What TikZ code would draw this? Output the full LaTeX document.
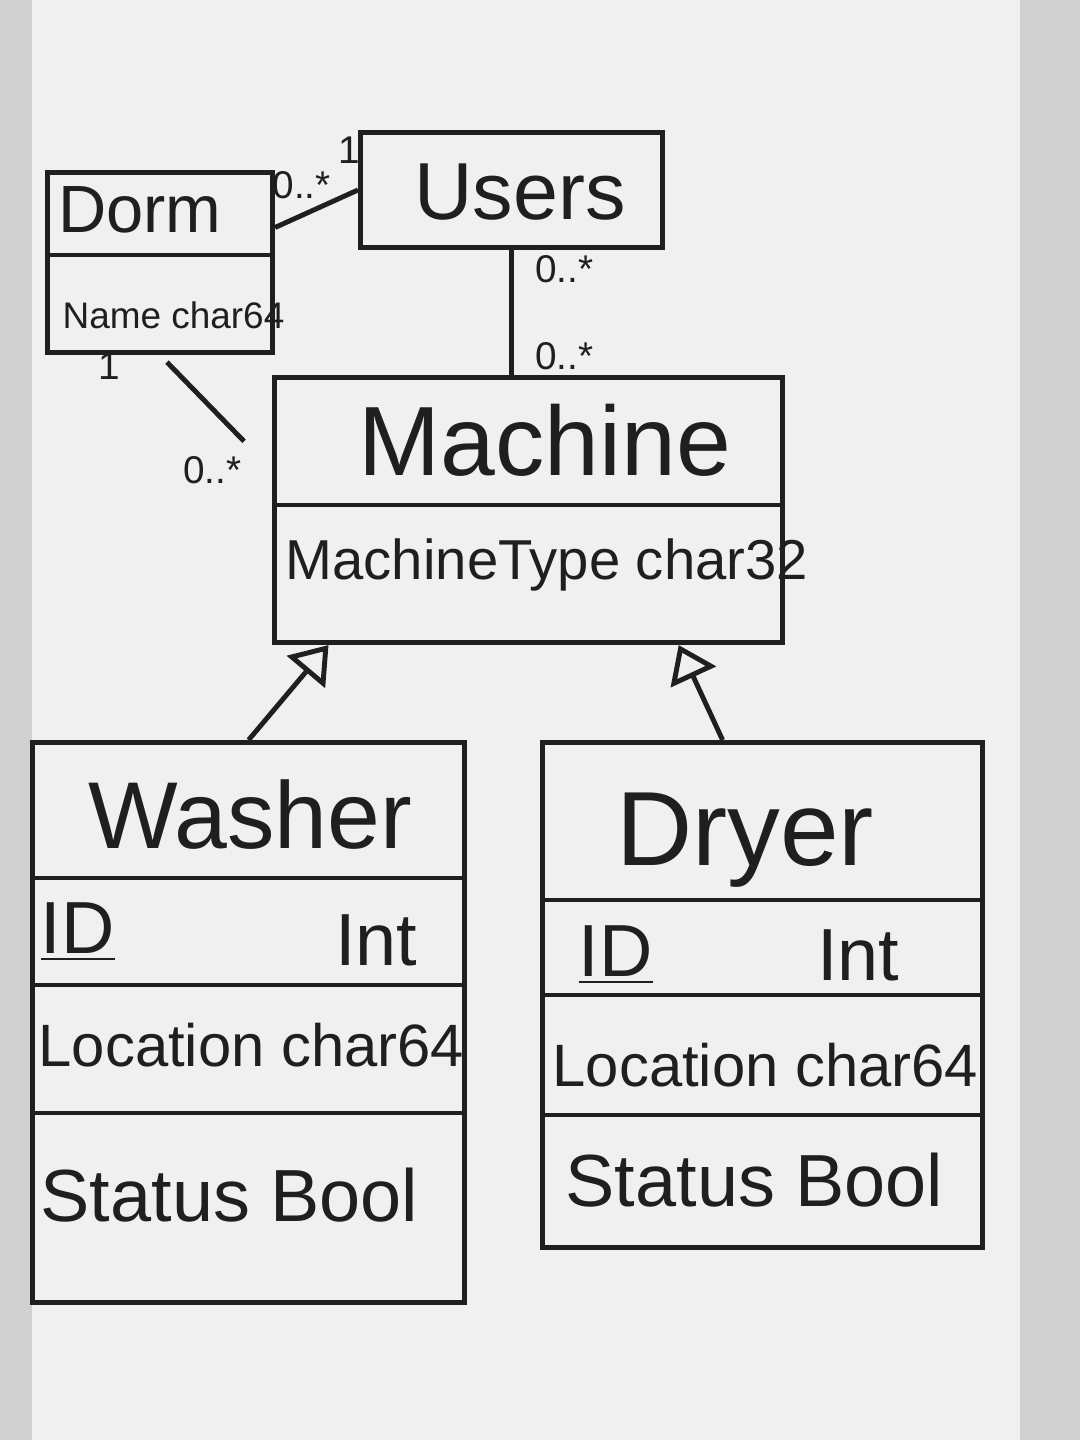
\documentclass[tikz,border=0pt]{standalone}
\usepackage{fontspec}
\setmainfont{Liberation Sans}
\usetikzlibrary{arrows.meta}

\begin{document}
\begin{tikzpicture}[x=0.01cm,y=-0.01cm,
        ink/.style={draw=black!88,line width=1.4pt},
        classbox/.style={ink,anchor=north west,inner sep=0pt},
        title/.style={text=black!88,font=\fontsize{28}{30}\selectfont},
        attr/.style={text=black!88,inner sep=0pt,font=\fontsize{17}{19}\selectfont},
        mult/.style={text=black!88,inner sep=2pt,font=\fontsize{11}{13}\selectfont},
        isa/.style={ink,-{Triangle[open,length=10pt,width=14pt]}}]
    % board
    \fill[black!6] (0,0) rectangle (1080,1440);
    \fill[black!18] (0,0) rectangle (32,1440);
    \fill[black!18] (1020,0) rectangle (1080,1440);
    \useasboundingbox (0,0) rectangle (1080,1440);
    % classes
    \node[classbox,minimum width=2.25cm,minimum height=1.8cm] (dorm) at (45,170) {};
    \node[classbox,minimum width=3.02cm,minimum height=1.15cm] (users) at (358,130) {};
    \node[classbox,minimum width=5.08cm,minimum height=2.65cm] (machine) at (272,375) {};
    \node[classbox,minimum width=4.32cm,minimum height=5.6cm] (washer) at (30,740) {};
    \node[classbox,minimum width=4.4cm,minimum height=5.05cm] (dryer) at (540,740) {};
    \draw[ink] (dorm.west |- 0,255) -- (dorm.east |- 0,255);
    \draw[ink] (machine.west |- 0,505) -- (machine.east |- 0,505);
    \foreach \y in {878,985,1113} \draw[ink] (washer.west |- 0,\y) -- (washer.east |- 0,\y);
    \foreach \y in {900,995,1115} \draw[ink] (dryer.west |- 0,\y) -- (dryer.east |- 0,\y);
    % texts
    \node[title,font=\fontsize{19}{21}\selectfont] (dormname) at (140,210) {Dorm};
    \node[attr,anchor=west,font=\fontsize{10.5}{12}\selectfont] (dormattr) at (62,315) {Name char64};
    \node[title,font=\fontsize{23}{25}\selectfont] (usersname) at (520,192) {Users};
    \node[title] (machinename) at (545,440) {Machine};
    \node[attr,anchor=west,font=\fontsize{16}{18}\selectfont] (machineattr) at (285,565) {MachineType char32};
    \node[title,font=\fontsize{27}{29}\selectfont] (washername) at (250,815) {Washer};
    \node[attr,anchor=west,font=\fontsize{21}{23}\selectfont] (washerid) at (40,932) {\underline{ID}};
    \node[attr,anchor=east,font=\fontsize{21}{23}\selectfont] (washerint) at (418,940) {Int};
    \node[attr,anchor=west] (washerloc) at (38,1045) {Location char64};
    \node[attr,anchor=west,font=\fontsize{21}{23}\selectfont] (washerstat) at (40,1195) {Status Bool};
    \node[title,font=\fontsize{30}{32}\selectfont] (dryername) at (745,840) {Dryer};
    \node[attr,anchor=west,font=\fontsize{21}{23}\selectfont] (dryerid) at (578,955) {\underline{ID}};
    \node[attr,anchor=east,font=\fontsize{21}{23}\selectfont] (dryerint) at (900,955) {Int};
    \node[attr,anchor=west] (dryerloc) at (552,1065) {Location char64};
    \node[attr,anchor=west,font=\fontsize{21}{23}\selectfont] (dryerstat) at (565,1180) {Status Bool};
    % associations
    \draw[ink] ([yshift=0.35cm]dorm.east) -- node[mult,pos=0.32,above=2pt] (m1) {0..*}
        node[mult,pos=0.9,above=6pt] (m2) {1} (users.west);
    \draw[ink] (users.south) -- node[mult,pos=0.15,right=4pt] (m3) {0..*}
        node[mult,pos=0.85,right=4pt] (m4) {0..*} (users.south |- machine.north);
    \draw[ink,shorten <=0.1cm,shorten >=0.4cm] (dorm.south) -- node[mult,pos=0.1,left=12pt] (m5) {1}
        node[mult,pos=1,left=6pt] (m6) {0..*} ([yshift=0.4cm]machine.west);
    % inheritance
    \draw[isa] (washer.north) -- ([xshift=-2cm]machine.south);
    \draw[isa] ([xshift=-0.4cm]dryer.north) -- ([xshift=1.5cm]machine.south);
\end{tikzpicture}
\end{document}
